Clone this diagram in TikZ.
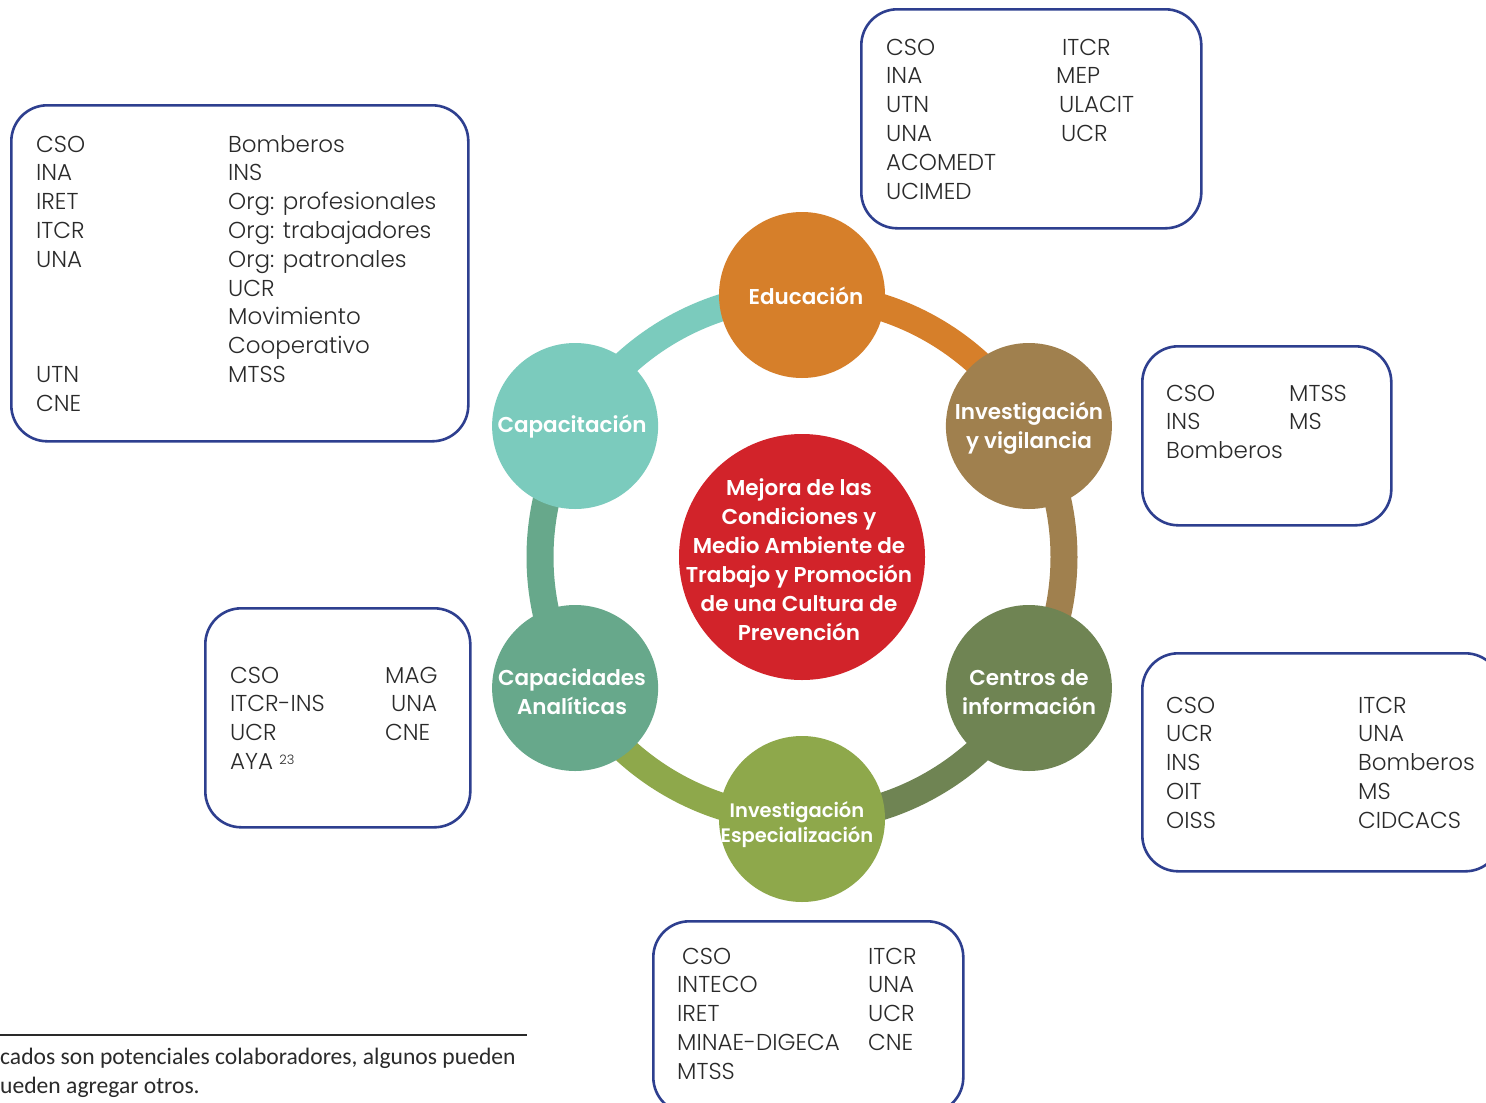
\documentclass[tikz,border=0pt]{standalone}
\usepackage{fontspec}
\usetikzlibrary{calc}
\setmainfont{Poppins}
\newfontfamily\orgfont{Poppins}[UprightFont={* Light}]
\newfontfamily\labfont{Poppins}[UprightFont={* SemiBold}]
\newfontfamily\notefont{Carlito}
\definecolor{cEdu}{HTML}{D67F2A}
\definecolor{cVig}{HTML}{A0804E}
\definecolor{cCen}{HTML}{6F8453}
\definecolor{cEsp}{HTML}{8EA84B}
\definecolor{cAna}{HTML}{67A88B}
\definecolor{cCap}{HTML}{7BCBBD}
\definecolor{cHub}{HTML}{D2232A}
\definecolor{boxblue}{HTML}{2E3F8F}
\definecolor{txtgray}{HTML}{2A2A2A}
\begin{document}
\begin{tikzpicture}[x=1pt,y=-1pt,
  orgbox/.style={draw=boxblue, line width=2.6pt, rounded corners=36pt, anchor=north west, inner sep=0, fill=none},
  orgtxt/.style={anchor=base west, inner sep=0, font=\orgfont\fontsize{23}{28.8}\selectfont, text=txtgray},
  ringseg/.style={line width=27pt},
  bubble/.style={circle, minimum size=166pt, inner sep=0},
  lab/.style={text=white, align=center, inner sep=0, font=\labfont\fontsize{21.5}{29}\selectfont},
  notetxt/.style={anchor=base west, inner sep=0, font=\notefont\fontsize{23.6}{29}\selectfont, text=txtgray}]
\clip (0,0) rectangle (1486,1103);
\fill[white] (0,0) rectangle (1486,1103);

% ring positions
\coordinate (C) at (802,557);
\coordinate (pEdu) at ($(C)+(-90:262)$);
\coordinate (pVig) at ($(C)+(-30:262)$);
\coordinate (pCen) at ($(C)+(30:262)$);
\coordinate (pEsp) at ($(C)+(90:262)$);
\coordinate (pAna) at ($(C)+(150:262)$);
\coordinate (pCap) at ($(C)+(210:262)$);

% ring segments
\draw[ringseg, cCap] (pCap) arc[start angle=210, end angle=270, radius=262];
\draw[ringseg, cEdu] (pEdu) arc[start angle=-90, end angle=-30, radius=262];
\draw[ringseg, cVig] (pVig) arc[start angle=-30, end angle=30, radius=262];
\draw[ringseg, cCen] (pCen) arc[start angle=30, end angle=90, radius=262];
\draw[ringseg, cEsp] (pEsp) arc[start angle=90, end angle=150, radius=262];
\draw[ringseg, cAna] (pAna) arc[start angle=150, end angle=210, radius=262];

% bubbles
\node[bubble, fill=cEdu] (edu) at (pEdu) {};
\node[bubble, fill=cVig] (vig) at (pVig) {};
\node[bubble, fill=cCen] (cen) at (pCen) {};
\node[bubble, fill=cEsp] (esp) at (pEsp) {};
\node[bubble, fill=cAna] (ana) at (pAna) {};
\node[bubble, fill=cCap] (cap) at (pCap) {};
\node[circle, minimum size=246pt, inner sep=0, fill=cHub] (hub) at (C) {};

\node[lab] (eduT) at (806,296) {Educación};
\node[lab] (vigT) at (1029,428) {Investigación\\y vigilancia};
\node[lab] (cenT) at (1029,692) {Centros de\\información};
\node[lab, font=\labfont\fontsize{19.5}{25}\selectfont] (espT) at (797,825) {Investigación\\Especialización};
\node[lab] (anaT) at (572,692) {Capacidades\\Analíticas};
\node[lab] (capT) at (572,427) {Capacitación};
\node[lab] (hubT) at (799,560) {Mejora de las\\Condiciones y\\Medio Ambiente de\\Trabajo y Promoción\\de una Cultura de\\Prevención};

% boxes
\node[orgbox, minimum width=457pt, minimum height=336pt] (b1) at (10,104) {};
\node[orgbox, minimum width=340pt, minimum height=219pt] (b2) at (860,8) {};
\node[orgbox, minimum width=249pt, minimum height=179pt] (b3) at (1141,345) {};
\node[orgbox, minimum width=359pt, minimum height=218pt] (b4) at (1141,652) {};
\node[orgbox, minimum width=265pt, minimum height=219pt] (b5) at (204,607) {};
\node[orgbox, minimum width=310pt, minimum height=192pt] (b6) at (652,920) {};

% box 1
\foreach \t [count=\i] in {CSO,INA,IRET,ITCR,UNA}
  \node[orgtxt] (b1a\i) at (36,{152+28.8*(\i-1)}) {\t};
\node[orgtxt] (b1a6) at (36,{152+28.8*8}) {UTN};
\node[orgtxt] (b1a7) at (36,{152+28.8*9}) {CNE};
\foreach \t [count=\i] in {Bomberos,INS,Org: profesionales,Org: trabajadores,Org: patronales,UCR,Movimiento,Cooperativo,MTSS}
  \node[orgtxt] (b1b\i) at (228,{152+28.8*(\i-1)}) {\t};

% box 2
\foreach \t [count=\i] in {CSO,INA,UTN,UNA,ACOMEDT,UCIMED}
  \node[orgtxt] (b2a\i) at (886,{55+28.8*(\i-1)}) {\t};
\node[orgtxt] (b2b1) at (1062,55) {ITCR};
\node[orgtxt] (b2b2) at (1056,83.8) {MEP};
\node[orgtxt] (b2b3) at (1059,112.6) {ULACIT};
\node[orgtxt] (b2b4) at (1061,141.4) {UCR};

% box 3
\foreach \t [count=\i] in {CSO,INS,Bomberos}
  \node[orgtxt] (b3a\i) at (1166,{401+28.8*(\i-1)}) {\t};
\foreach \t [count=\i] in {MTSS,MS}
  \node[orgtxt] (b3b\i) at (1289,{401+28.8*(\i-1)}) {\t};

% box 4
\foreach \t [count=\i] in {CSO,UCR,INS,OIT,OISS}
  \node[orgtxt] (b4a\i) at (1166,{713+28.8*(\i-1)}) {\t};
\foreach \t [count=\i] in {ITCR,UNA,Bomberos,MS,CIDCACS}
  \node[orgtxt] (b4b\i) at (1358,{713+28.8*(\i-1)}) {\t};

% box 5
\foreach \t [count=\i] in {CSO,ITCR-INS,UCR}
  \node[orgtxt] (b5a\i) at (230,{683+28.8*(\i-1)}) {\t};
\node[orgtxt] (b5a4) at (230,{683+28.8*3}) {AYA {\fontsize{13}{13}\selectfont\raisebox{0.75ex}{23}}};
\node[orgtxt] (b5b1) at (385,683) {MAG};
\node[orgtxt] (b5b2) at (391,711.8) {UNA};
\node[orgtxt] (b5b3) at (385,740.6) {CNE};

% box 6
\node[orgtxt] (b6a1) at (682,964) {CSO};
\foreach \t [count=\i] in {INTECO,IRET,MINAE-DIGECA,MTSS}
  \node[orgtxt] (b6a\i x) at (677,{964+28.8*\i}) {\t};
\foreach \t [count=\i] in {ITCR,UNA,UCR,CNE}
  \node[orgtxt] (b6b\i) at (868,{964+28.8*(\i-1)}) {\t};

% footnote
\draw[line width=2.8pt, txtgray] (-5,1035) -- (527,1035);
\node[notetxt] (n1) at (0,1064) {cados son potenciales colaboradores, algunos pueden};
\node[notetxt] (n2) at (0,1093) {ueden agregar otros.};
\end{tikzpicture}
\end{document}
